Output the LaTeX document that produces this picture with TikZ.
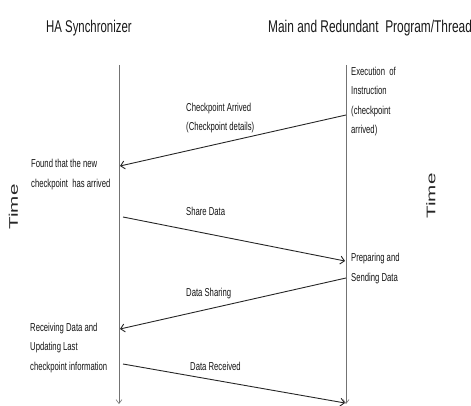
\documentclass[tikz,border=0pt]{standalone}
\usepackage{fontspec}
\setmainfont[FakeStretch=0.67]{Liberation Sans}
\newfontfamily\titlefont[FakeStretch=0.67]{Liberation Sans}
\newfontfamily\longtitlefont[FakeStretch=0.7]{Liberation Sans}
\newfontfamily\widefont{Liberation Sans}
\usetikzlibrary{arrows.meta}
\begin{document}
\begin{tikzpicture}[x=1pt,y=-1pt,
  lifeline/.style={draw=black!55, line width=0.6pt,
    -{Straight Barb[length=4pt,width=6pt]}},
  msg/.style={draw=black!85, line width=0.9pt,
    -{Straight Barb[length=4pt,width=8pt]}},
  title/.style={inner sep=0pt, text=black!90,
    font=\titlefont\fontsize{17}{19}\selectfont},
  lbl/.style={inner sep=0pt, align=left, anchor=west,
    font=\fontsize{11.5}{19.5}\selectfont, text=black!92},
  timelbl/.style={inner sep=0pt, rotate=90, text=black!85,
    font=\widefont\fontsize{12.5}{14}\selectfont}]
\useasboundingbox (0,0) rectangle (471,406);

% column headings
\node[title, anchor=west] (hsync) at (46,28) {HA Synchronizer};
\node[title, anchor=west, font=\longtitlefont\fontsize{17}{19}\selectfont]
  (hprog) at (268,28) {Main and Redundant~ Program/Thread};

% lifelines
\coordinate (ltop) at (119,65);
\coordinate (lbot) at (119,404);
\coordinate (rtop) at (346,65);
\coordinate (rbot) at (346,404);
\draw[lifeline] (ltop) -- (lbot);
\draw[lifeline] (rtop) -- (rbot);

% time axes
\node[timelbl] (tleft) at (13.5,207) {\scalebox{1.65}[1]{Time}};
\node[timelbl] (tright) at (431,196) {\scalebox{1.65}[1]{Time}};

% message end points on the lifelines
\coordinate (r1) at (346,115);
\coordinate (l1) at (120,166);
\coordinate (l2) at (123,217);
\coordinate (r2) at (345,261);
\coordinate (r3) at (346,278);
\coordinate (l3) at (120,329);
\coordinate (l4) at (123,364);
\coordinate (r4) at (345,403);

\draw[msg] (r1) -- (l1);
\draw[msg] (l2) -- (r2);
\draw[msg] (r3) -- (l3);
\draw[msg] (l4) -- (r4);

% message labels
\node[lbl] (m1) at (186,118) {Checkpoint Arrived\\(Checkpoint details)};
\node[lbl] (m2) at (186,211) {Share Data};
\node[lbl] (m3) at (186,294) {Data Sharing};
\node[lbl] (m4) at (190,366) {Data Received};

% activity notes
\node[lbl] (a1) at (351,101.5) {Execution~ of\\Instruction\\(checkpoint\\arrived)};
\node[lbl] (a2) at (31,174.5) {Found that the new\\checkpoint~ has arrived};
\node[lbl] (a3) at (351,268.5) {Preparing and\\Sending Data};
\node[lbl] (a4) at (30,348) {Receiving Data and\\Updating Last\\checkpoint information};
\end{tikzpicture}
\end{document}
